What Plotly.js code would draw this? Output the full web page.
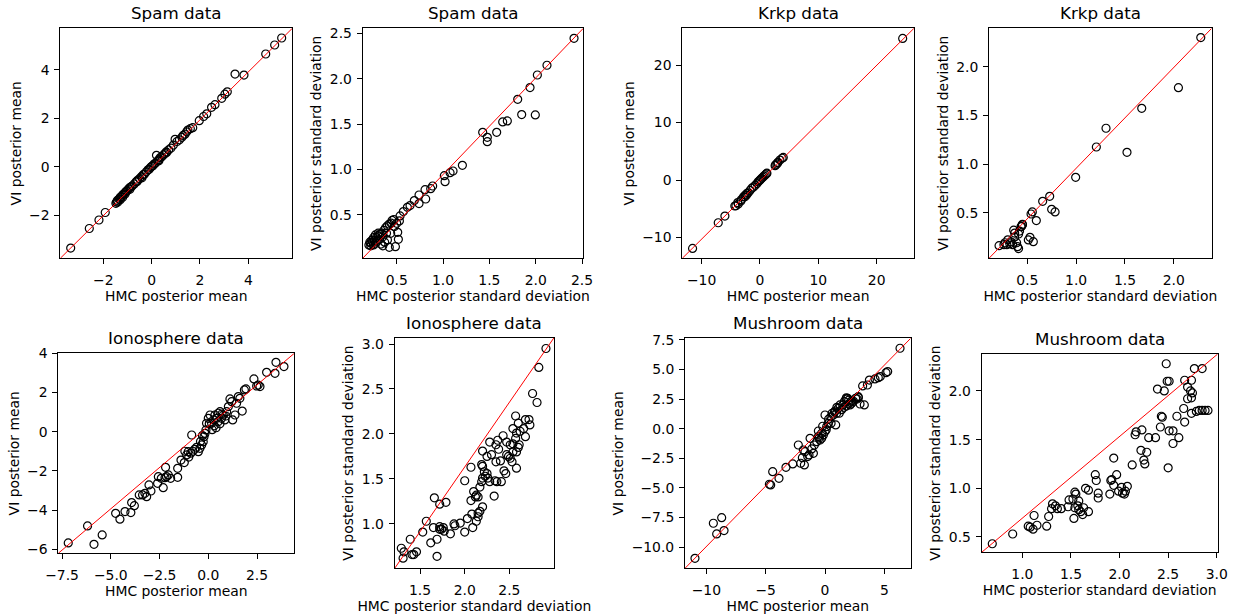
<!DOCTYPE html>
<html><head><meta charset="utf-8">
<script src="https://cdn.plot.ly/plotly-3.0.1.min.js"></script>
<style>html,body{margin:0;padding:0;background:#fff}#chart{width:1236px;height:616px}</style>
</head><body><div id="chart"></div>
<script>
// ---------- data: [HMC value, VI value] pairs ----------
const spamMean = [[-3.35,-3.35],[-2.58,-2.54],[-2.18,-2.19],[-1.92,-1.88],[-1.48,-1.5],[-1.45,-1.45],[-1.42,-1.38],[-1.4,-1.45],[-1.35,-1.33],[-1.3,-1.25],[-1.3,-1.35],[-1.25,-1.22],[-1.2,-1.15],[-1.2,-1.25],[-1.15,-1.12],[-1.1,-1.05],[-1.1,-1.12],[-1.05,-1.0],[-1.0,-0.97],[-0.95,-0.9],[-0.9,-0.85],[-0.9,-0.92],[-0.85,-0.82],[-0.8,-0.78],[-0.72,-0.7],[-0.65,-0.62],[-0.6,-0.6],[-0.58,-0.55],[-0.5,-0.48],[-0.42,-0.4],[-0.4,-0.45],[-0.35,-0.32],[-0.3,-0.3],[-0.22,-0.2],[-0.15,-0.12],[-0.1,-0.1],[-0.05,-0.02],[0.0,0.02],[0.05,0.05],[0.1,0.12],[0.15,0.15],[0.2,0.48],[0.25,0.25],[0.3,0.3],[0.3,0.25],[0.35,0.38],[0.42,0.42],[0.5,0.5],[0.55,0.55],[0.6,0.62],[0.62,0.6],[0.7,0.7],[0.8,0.78],[0.9,0.9],[0.97,1.14],[1.05,1.05],[1.15,1.12],[1.25,1.22],[1.3,1.3],[1.38,1.35],[1.45,1.45],[1.5,1.52],[1.6,1.58],[1.7,1.62],[1.97,1.91],[2.15,2.08],[2.28,2.19],[2.48,2.46],[2.62,2.57],[2.9,2.83],[3.03,3.0],[3.13,3.1],[3.45,3.83],[3.82,3.79],[4.72,4.66],[5.09,5.03],[5.38,5.32]];

const spamSd = [[2.414,2.445],[2.122,2.148],[2.018,2.041],[1.939,1.902],[1.806,1.773],[1.849,1.605],[1.996,1.601],[1.694,1.535],[1.644,1.524],[1.579,1.41],[1.428,1.41],[1.478,1.355],[1.478,1.307],[1.209,1.047],[1.108,0.984],[1.076,0.966],[1.014,0.933],[1.022,0.867],[0.888,0.819],[0.867,0.79],[0.806,0.779],[0.813,0.676],[0.741,0.72],[0.741,0.625],[0.69,0.658],[0.644,0.603],[0.615,0.584],[0.572,0.537],[0.536,0.489],[0.529,0.434],[0.5,0.408],[0.475,0.372],[0.511,0.309],[0.518,0.232],[0.486,0.151],[0.4,0.225],[0.42,0.144],[0.435,0.298],[0.2,0.17],[0.22,0.16],[0.22,0.19],[0.24,0.2],[0.25,0.17],[0.26,0.22],[0.27,0.19],[0.28,0.25],[0.29,0.21],[0.3,0.27],[0.31,0.23],[0.32,0.29],[0.33,0.18],[0.34,0.3],[0.35,0.26],[0.36,0.33],[0.37,0.2],[0.38,0.36],[0.39,0.3],[0.4,0.38],[0.42,0.4],[0.44,0.41],[0.45,0.44],[0.47,0.45],[0.25,0.25],[0.27,0.28],[0.3,0.3],[0.23,0.22],[0.21,0.2],[0.35,0.16]];

const krkpMean = [[-11.54,-11.88],[-7.14,-7.42],[-6.0,-6.26],[-4.3,-4.5],[-4.11,-4.46],[-3.71,-4.17],[-3.8,-3.9],[-3.26,-3.65],[-3.2,-3.4],[-2.8,-2.9],[-2.57,-2.9],[-2.5,-2.6],[-2.29,-2.61],[-2.2,-2.3],[-2.0,-2.2],[-1.7,-1.8],[-1.4,-1.4],[-1.1,-1.2],[-0.8,-0.9],[-0.5,-0.6],[-0.3,-0.3],[-0.1,-0.1],[0.1,0.1],[0.3,0.3],[0.5,0.5],[0.7,0.7],[0.9,0.9],[1.1,1.1],[1.2,1.2],[2.6,2.5],[2.69,2.67],[2.9,2.8],[3.03,3.01],[3.1,3.1],[3.43,3.48],[3.8,3.8],[4.0,3.94],[24.46,24.64]];

const krkpSd = [[2.277,2.302],[2.048,1.787],[1.672,1.574],[1.306,1.369],[1.207,1.176],[1.521,1.121],[0.995,0.864],[0.729,0.668],[0.657,0.617],[0.749,0.534],[0.784,0.507],[0.592,0.418],[0.551,0.507],[0.538,0.486],[0.449,0.373],[0.435,0.356],[0.527,0.246],[0.51,0.219],[0.561,0.201],[0.21,0.16],[0.26,0.17],[0.29,0.17],[0.3,0.22],[0.32,0.18],[0.35,0.17],[0.36,0.32],[0.37,0.29],[0.37,0.25],[0.39,0.19],[0.4,0.15],[0.41,0.13],[0.41,0.28],[0.42,0.31],[0.44,0.36],[0.45,0.38],[0.33,0.2],[0.27,0.19]];

const ionoMean = [[-7.18,-5.68],[-6.19,-4.81],[-5.86,-5.75],[-5.44,-5.27],[-4.75,-4.17],[-4.53,-4.47],[-4.27,-4.08],[-3.97,-4.13],[-3.93,-3.62],[-3.79,-3.78],[-3.54,-3.23],[-3.37,-3.23],[-3.25,-3.15],[-3.16,-3.32],[-3.04,-2.72],[-2.94,-3.03],[-2.6,-2.64],[-2.56,-2.3],[-2.41,-2.38],[-2.31,-2.86],[-2.22,-2.35],[-2.19,-1.82],[-2.14,-2.3],[-2.05,-2.21],[-1.93,-2.38],[-1.57,-1.87],[-1.57,-2.33],[-1.4,-1.45],[-1.23,-1.58],[-1.11,-1.19],[-1.03,-1.02],[-1.0,-1.3],[-0.9,-1.1],[-0.85,-0.17],[-0.8,-1.0],[-1.2,-1.0],[-0.7,-0.9],[-0.6,-0.8],[-0.51,-1.02],[-0.43,-0.85],[-0.4,-0.5],[-0.34,-0.68],[-0.3,-0.2],[-0.26,-0.51],[-0.22,-0.26],[-0.17,-0.09],[-0.12,0.09],[-0.09,0.43],[0.0,0.68],[0.05,0.4],[0.09,0.85],[0.17,0.43],[0.2,0.1],[0.26,0.6],[0.3,0.3],[0.34,0.85],[0.4,0.2],[0.43,0.68],[0.5,0.5],[0.51,0.94],[0.6,1.02],[0.6,0.4],[0.68,0.68],[0.7,0.9],[0.77,0.85],[0.85,0.6],[0.9,0.8],[0.94,1.02],[1.03,1.28],[1.11,1.67],[1.2,1.53],[1.25,0.6],[1.37,0.85],[1.45,1.45],[1.54,1.79],[1.62,1.7],[1.74,1.05],[1.85,2.13],[1.93,2.18],[2.34,2.69],[2.48,2.33],[2.56,2.38],[2.65,2.3],[2.99,3.03],[3.42,2.98],[3.47,3.54],[3.88,3.32]];

const ionoSd = [[2.91,2.95],[2.83,2.74],[2.76,2.45],[2.81,2.35],[2.57,2.2],[2.72,2.16],[2.68,2.16],[2.73,2.1],[2.66,2.06],[2.6,2.12],[2.62,2.03],[2.58,2.01],[2.68,1.97],[2.54,2.06],[2.57,1.95],[2.54,1.89],[2.61,1.88],[2.58,1.8],[2.6,1.85],[2.58,1.62],[2.43,1.98],[2.37,1.93],[2.35,1.88],[2.38,1.83],[2.28,1.91],[2.47,1.91],[2.51,1.88],[2.47,1.77],[2.49,1.75],[2.51,1.73],[2.53,1.69],[2.54,1.8],[2.4,1.7],[2.35,1.69],[2.3,1.77],[2.25,1.75],[2.2,1.81],[2.19,1.66],[2.2,1.64],[2.22,1.58],[2.25,1.56],[2.23,1.53],[2.26,1.51],[2.2,1.51],[2.28,1.47],[2.36,1.47],[2.41,1.47],[2.34,1.48],[2.44,1.59],[2.46,1.56],[2.17,1.41],[2.19,1.47],[2.07,1.63],[2.0,1.48],[2.33,1.31],[2.13,1.32],[2.1,1.36],[2.12,1.3],[2.15,1.3],[2.07,1.26],[2.2,1.19],[2.17,1.14],[2.15,1.12],[2.15,1.08],[2.08,1.11],[2.03,1.06],[2.13,1.03],[2.09,0.96],[2.0,0.91],[1.95,1.01],[1.88,1.0],[1.89,0.98],[1.84,0.89],[1.66,1.29],[1.72,1.22],[1.79,1.24],[1.57,1.03],[1.53,0.91],[1.62,0.79],[1.65,0.96],[1.69,0.83],[1.72,0.97],[1.74,0.94],[1.76,0.96],[1.77,0.92],[1.72,0.94],[1.69,0.64],[1.39,0.83],[1.41,0.66],[1.46,0.69],[1.43,0.66],[1.29,0.73],[1.31,0.62],[1.32,0.69]];

const mushMean = [[-10.96,-10.94],[6.32,6.78],[5.28,4.81],[5.14,4.72],[4.66,4.39],[4.49,4.3],[4.21,4.19],[3.74,4.1],[3.57,3.68],[3.17,3.6],[3.31,2.0],[2.95,2.08],[2.81,2.61],[2.58,2.56],[2.25,2.14],[2.11,2.0],[1.91,2.56],[1.77,2.5],[1.63,2.28],[1.49,2.0],[1.26,2.0],[1.12,1.71],[0.98,1.29],[0.84,1.49],[0.7,1.15],[0.9,0.31],[0.51,0.45],[0.28,0.45],[0.0,1.15],[0.14,0.17],[0.0,-0.25],[-0.14,-0.53],[-0.28,-0.82],[-0.42,-0.96],[-0.56,-0.2],[-0.56,-0.67],[-0.7,-1.1],[-0.9,-1.38],[-0.98,-2.08],[-1.12,-1.71],[-1.26,-0.82],[-1.35,-2.22],[-1.46,-2.36],[-1.69,-1.94],[-1.74,-3.06],[-1.83,-1.8],[-1.91,-2.45],[-2.05,-2.92],[-2.25,-1.38],[-2.72,-2.98],[-3.29,-3.26],[-3.88,-4.19],[-4.41,-3.63],[-4.58,-4.75],[-4.69,-4.69],[-8.71,-7.51],[-9.41,-7.98],[-9.13,-8.88],[-8.51,-8.6],[0.3,0.8],[0.5,1.0],[0.6,1.3],[0.8,1.4],[1.0,1.8],[1.2,1.3],[1.4,1.6],[1.6,1.8],[1.8,1.9],[2.0,2.1],[2.2,2.3],[1.8,2.6],[2.0,2.4],[2.4,2.3],[2.7,2.5],[2.8,2.7],[-0.3,-0.4],[-0.5,-0.8],[-0.2,0.2],[0.1,-0.1]];

const mushSd = [[0.69,0.43],[0.9,0.53],[1.06,0.61],[1.08,0.6],[1.11,0.58],[1.12,0.72],[1.15,0.62],[1.25,0.61],[1.27,0.71],[1.3,0.79],[1.31,0.84],[1.34,0.82],[1.36,0.79],[1.4,0.79],[1.47,0.81],[1.48,0.88],[1.52,0.89],[1.53,0.69],[1.54,0.8],[1.54,0.96],[1.55,0.94],[1.57,0.82],[1.58,0.78],[1.58,0.87],[1.6,0.76],[1.63,0.8],[1.62,0.73],[1.65,1.0],[1.68,0.98],[1.68,0.76],[1.75,1.14],[1.76,1.08],[1.78,0.95],[1.78,0.9],[1.9,0.94],[1.92,1.09],[1.91,1.08],[1.94,1.31],[1.94,1.03],[1.97,1.14],[1.99,0.97],[2.02,1.01],[2.03,0.95],[2.05,0.94],[2.06,0.97],[2.08,1.02],[2.13,1.24],[2.16,1.55],[2.17,1.58],[2.23,1.6],[2.22,1.39],[2.25,1.29],[2.26,1.25],[2.28,1.37],[2.3,1.52],[2.37,1.52],[2.39,2.02],[2.43,1.74],[2.44,1.73],[2.42,1.63],[2.46,2.0],[2.48,2.28],[2.49,2.1],[2.51,2.1],[2.5,1.21],[2.51,1.59],[2.55,1.59],[2.55,1.46],[2.59,1.74],[2.61,1.52],[2.66,1.82],[2.67,1.68],[2.67,2.11],[2.7,2.04],[2.7,1.92],[2.73,2.0],[2.74,1.77],[2.74,2.11],[2.75,1.98],[2.77,2.23],[2.85,2.23],[2.79,1.79],[2.82,1.8],[2.85,1.8],[2.88,1.8],[2.91,1.8],[2.74,1.93]];

// ---------- tick values ----------
const spamMeanTicks = [-2, 0, 2, 4];
const spamSdTicks = [0.5, 1.0, 1.5, 2.0, 2.5];
const krkpMeanTicks = [-10, 0, 10, 20];
const krkpSdTicks = [0.5, 1.0, 1.5, 2.0];
const ionoMeanXTicks = [-7.5, -5.0, -2.5, 0.0, 2.5];
const ionoMeanYTicks = [-6, -4, -2, 0, 2, 4];
const ionoSdXTicks = [1.5, 2.0, 2.5];
const ionoSdYTicks = [1.0, 1.5, 2.0, 2.5, 3.0];
const mushMeanXTicks = [-10, -5, 0, 5];
const mushMeanYTicks = [-10.0, -7.5, -5.0, -2.5, 0.0, 2.5, 5.0, 7.5];
const mushSdXTicks = [1.0, 1.5, 2.0, 2.5, 3.0];
const mushSdYTicks = [0.5, 1.0, 1.5, 2.0];

const titles = ['Spam data','Spam data','Krkp data','Krkp data','Ionosphere data','Ionosphere data','Mushroom data','Mushroom data'];
const xLabelMean = 'HMC posterior mean', yLabelMean = 'VI posterior mean';
const xLabelSd = 'HMC posterior standard deviation', yLabelSd = 'VI posterior standard deviation';

// ---------- panel layout (pixel boxes) ----------
const W = 1236, H = 616;
const panels = [
  {d: spamMean, xl: xLabelMean, yl: yLabelMean, xr: [-3.78, 5.82], yr: [-3.77, 5.72], xt: spamMeanTicks, yt: spamMeanTicks, xf: '', yf: '', box: [60.3, 292.3, 28.3, 258.3]},
  {d: spamSd, xl: xLabelSd, yl: yLabelSd, xr: [0.133, 2.514], yr: [0.023, 2.555], xt: spamSdTicks, yt: spamSdTicks, xf: '.1f', yf: '.1f', box: [362.7, 583.3, 28.3, 258.3]},
  {d: krkpMean, xl: xLabelMean, yl: yLabelMean, xr: [-13.3, 26.4], yr: [-13.6, 26.4], xt: krkpMeanTicks, yt: krkpMeanTicks, xf: '', yf: '', box: [682.3, 914, 28.3, 258.3]},
  {d: krkpSd, xl: xLabelSd, yl: yLabelSd, xr: [0.107, 2.389], yr: [0.03, 2.398], xt: krkpSdTicks, yt: krkpSdTicks, xf: '.1f', yf: '.1f', box: [989, 1211.7, 28.3, 258.3]},
  {d: ionoMean, xl: xLabelMean, yl: yLabelMean, xr: [-7.69, 4.41], yr: [-6.21, 4.0], xt: ionoMeanXTicks, yt: ionoMeanYTicks, xf: '.1f', yf: '', box: [58.3, 294.3, 353.3, 553.3]},
  {d: ionoSd, xl: xLabelSd, yl: yLabelSd, xr: [1.216, 3.0], yr: [0.507, 3.07], xt: ionoSdXTicks, yt: ionoSdYTicks, xf: '.1f', yf: '.1f', box: [394.7, 554, 337.7, 568.3]},
  {d: mushMean, xl: xLabelMean, yl: yLabelMean, xr: [-11.8, 7.22], yr: [-11.78, 7.62], xt: mushMeanXTicks, yt: mushMeanYTicks, xf: '', yf: '.1f', box: [685, 910.7, 338.3, 568.3]},
  {d: mushSd, xl: xLabelSd, yl: yLabelSd, xr: [0.581, 3.01], yr: [0.342, 2.38], xt: mushSdXTicks, yt: mushSdYTicks, xf: '.1f', yf: '.1f', box: [981.7, 1217.7, 354, 552.3]}
];

const FONT = 'DejaVu Sans, Liberation Sans, sans-serif';
const traces = [];
const layout = {
  width: W, height: H,
  margin: {l: 0, r: 0, t: 0, b: 0},
  paper_bgcolor: '#fff', plot_bgcolor: '#fff',
  showlegend: false,
  font: {family: FONT, color: '#000', size: 13.9},
  annotations: []
};

panels.forEach((p, k) => {
  const i = k + 1;
  const xa = 'x' + i, ya = 'y' + i;
  traces.push({
    type: 'scatter', mode: 'markers',
    x: p.d.map(v => v[0]), y: p.d.map(v => v[1]),
    xaxis: xa, yaxis: ya,
    marker: {size: 8, color: 'rgba(0,0,0,0)', line: {color: '#000', width: 1.2}},
    hoverinfo: 'x+y', cliponaxis: false
  });
  // reference line corner to corner of the axes
  traces.push({
    type: 'scatter', mode: 'lines',
    x: p.xr, y: p.yr, xaxis: xa, yaxis: ya,
    line: {color: '#ff0000', width: 1}, hoverinfo: 'skip'
  });
  const [l, r, t, b] = p.box;
  const common = {
    ticks: 'outside', ticklen: 5, tickwidth: 1, tickcolor: '#000',
    showline: true, linecolor: '#000', linewidth: 1, mirror: true,
    showgrid: false, zeroline: false,
    tickfont: {family: FONT, size: 13.9, color: '#000'}
  };
  layout['xaxis' + i] = Object.assign({}, common, {
    domain: [l / W, r / W], range: p.xr, anchor: ya,
    tickmode: 'array', tickvals: p.xt, tickformat: p.xf, ticklabelstandoff: 4,
    title: {text: p.xl, font: {family: FONT, size: 13.9, color: '#000'}, standoff: 2}
  });
  layout['yaxis' + i] = Object.assign({}, common, {
    domain: [1 - b / H, 1 - t / H], range: p.yr, anchor: xa,
    tickmode: 'array', tickvals: p.yt, tickformat: p.yf, ticklabelstandoff: 2,
    title: {text: p.yl, font: {family: FONT, size: 13.9, color: '#000'}, standoff: 4}
  });
  layout.annotations.push({
    text: titles[k], xref: xa + ' domain', yref: ya + ' domain', x: 0.5, y: 1,
    xanchor: 'center', yanchor: 'bottom', yshift: 3, showarrow: false,
    font: {family: FONT, size: 16.7, color: '#000'}
  });
});

Plotly.newPlot('chart', traces, layout, {displayModeBar: false, staticPlot: true});
</script></body></html>
